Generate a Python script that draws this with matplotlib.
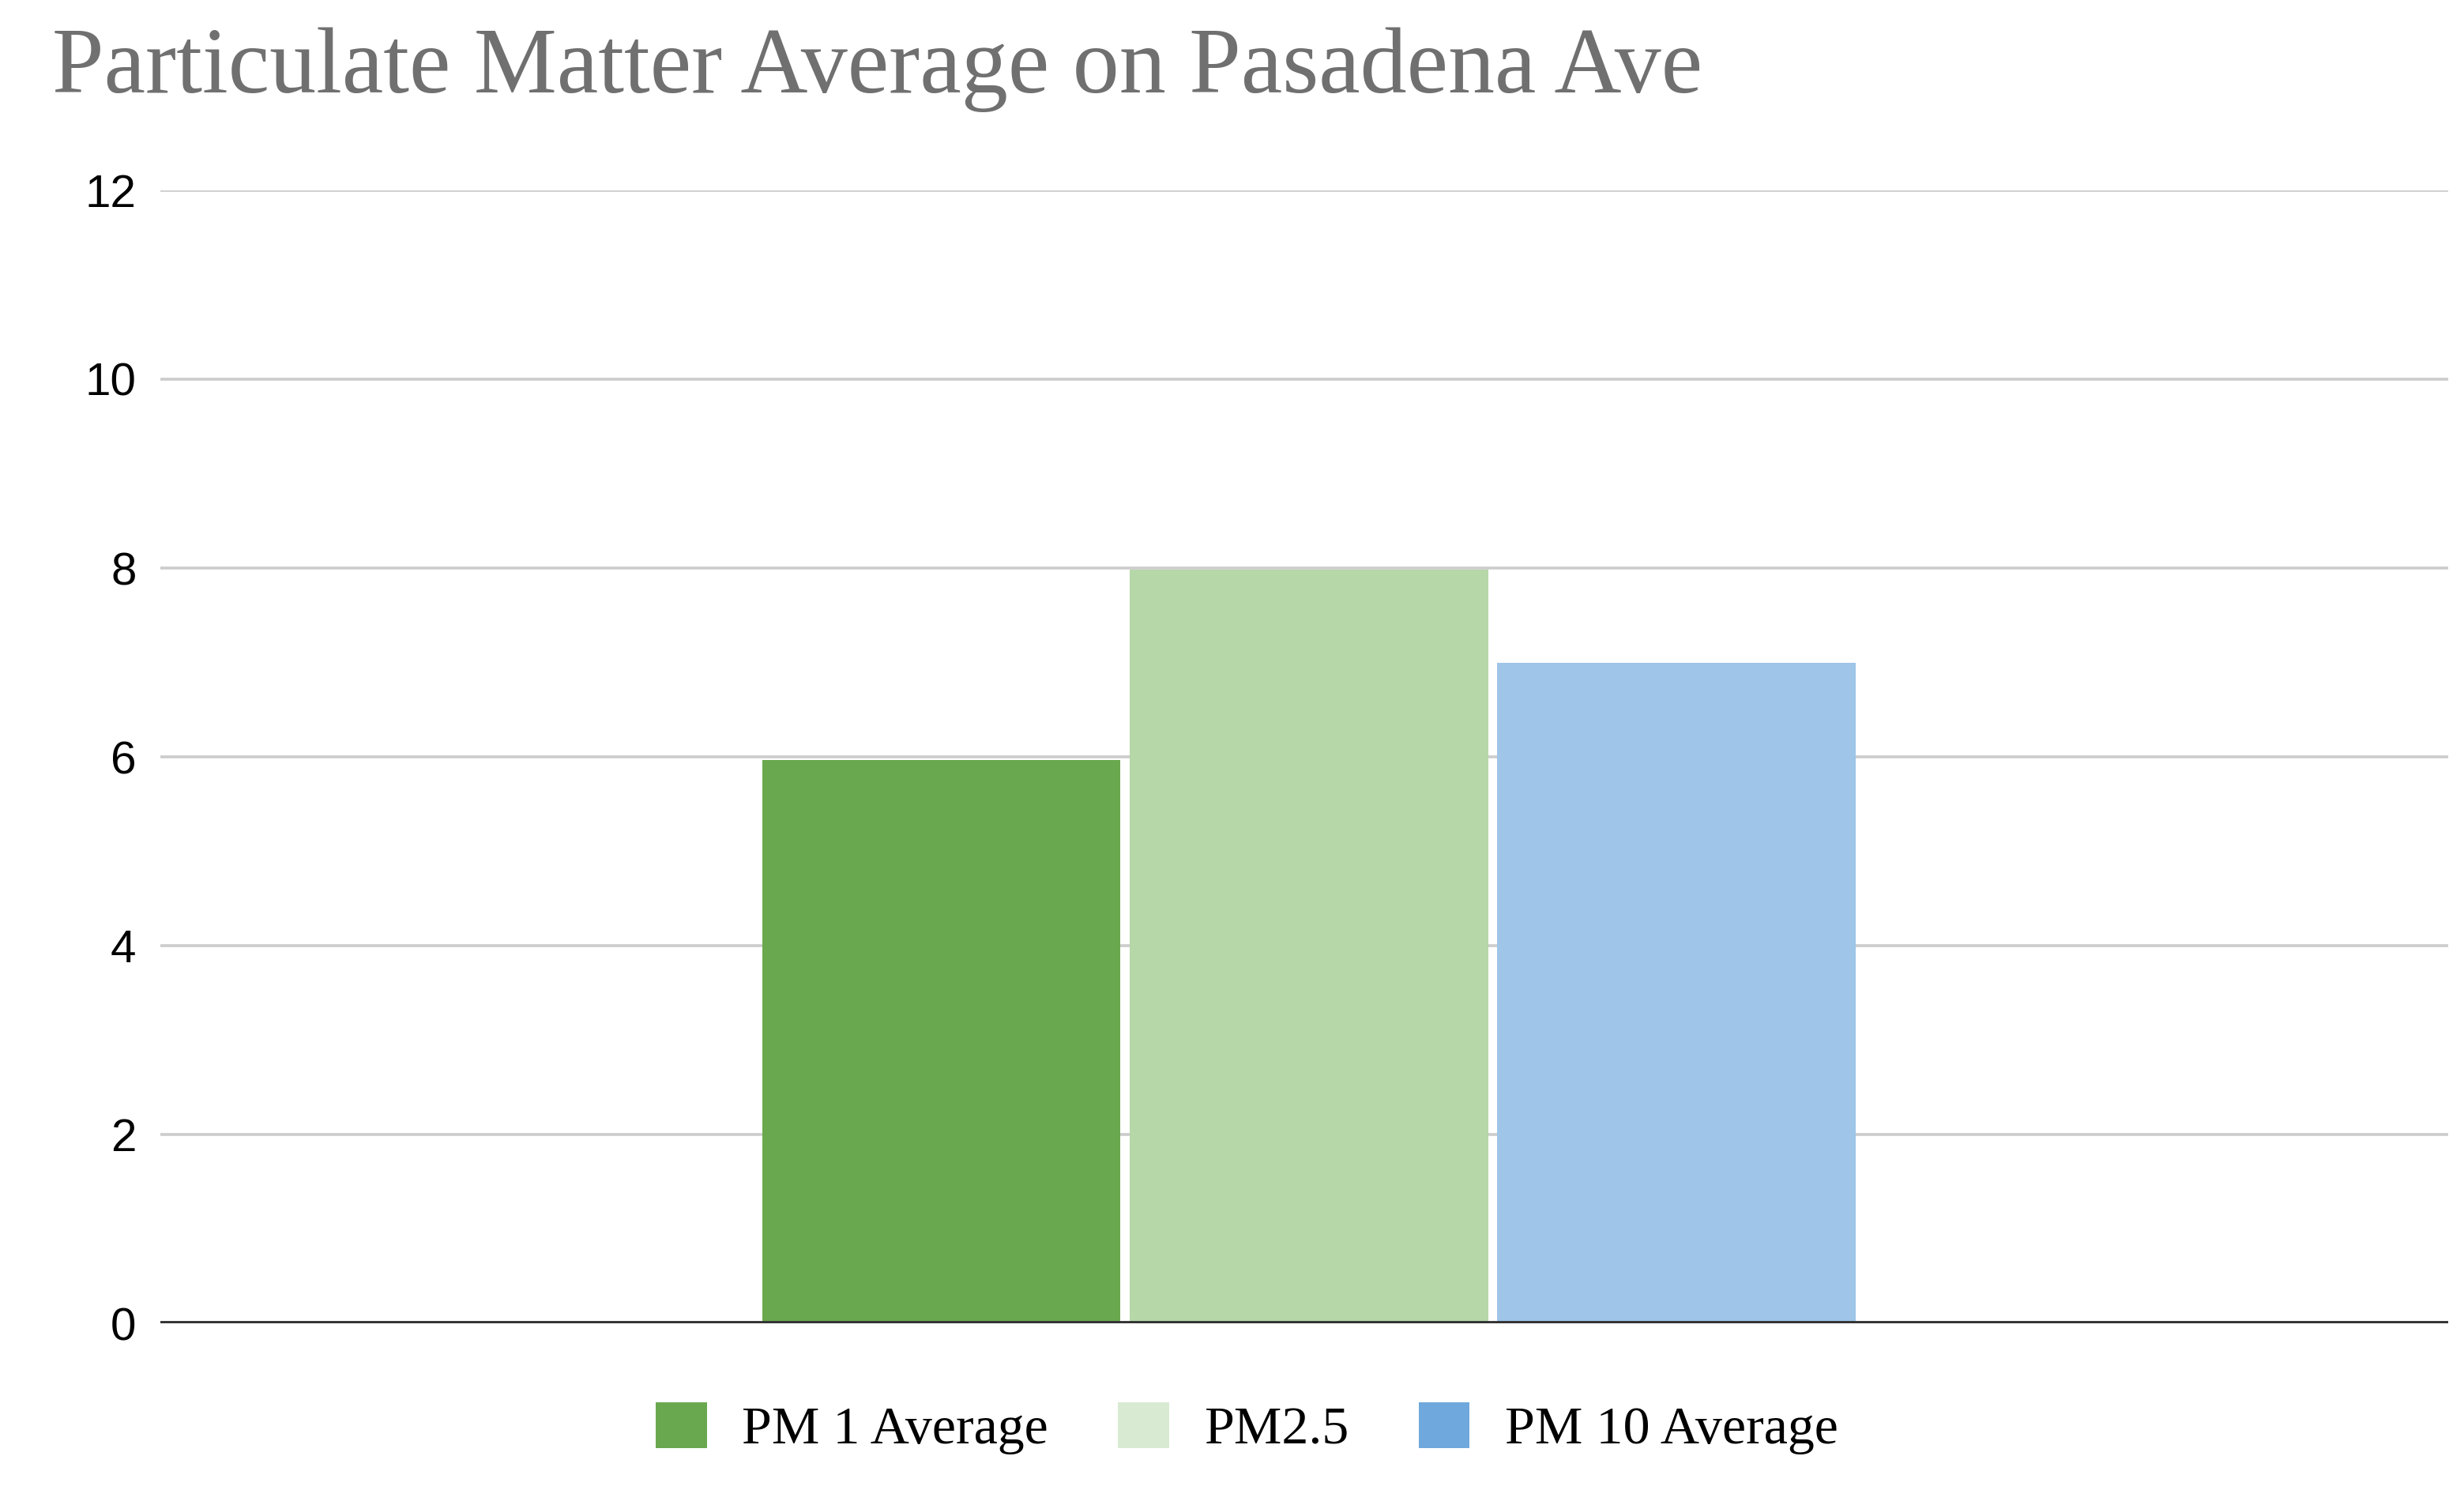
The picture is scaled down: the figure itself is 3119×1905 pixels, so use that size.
import matplotlib
matplotlib.use("Agg")
import matplotlib.pyplot as plt
from matplotlib.patches import Patch

# values
series = ["PM 1 Average", "PM2.5", "PM 10 Average"]
values = [5.97, 7.98, 7.0]
bar_colors = ["#6aa84f", "#b6d7a8", "#9fc5e8"]
legend_colors = ["#6aa84f", "#d9ead3", "#6fa8dc"]
offsets = [-0.1587, 0.002, 0.1627]
yticks = [0, 2, 4, 6, 8, 10, 12]

fig = plt.figure(figsize=(31.19, 19.05), dpi=100)
ax = fig.add_axes([0.0651, 0.1207, 0.9285, 0.7528])

for off, v, c in zip(offsets, values, bar_colors):
    ax.bar(off, v, width=0.1566, color=c, zorder=3)

ax.set_xlim(-0.5, 0.5)
ax.set_ylim(0, 12)
ax.set_yticks(yticks)
ax.set_yticklabels([str(t) for t in yticks], fontsize=42,
                   family="Liberation Sans")
ax.set_xticks([])
ax.tick_params(axis="y", length=0, pad=22)
ax.grid(axis="y", color="#cccccc", lw=2.6, zorder=0)
ax.axhline(0, color="#333333", lw=4.2, zorder=4)
for s in ax.spines.values():
    s.set_visible(False)

fig.text(66 / 3119, 1 - 88 / 1905, "Particulate Matter Average on Pasadena Ave",
         fontsize=85, family="Liberation Serif", color="#707070",
         va="center", ha="left")

handles = [Patch(facecolor=c, edgecolor="none") for c in legend_colors]
fig.legend(handles, series, loc="center", bbox_to_anchor=(0.506, 1 - 1808 / 1905),
           ncol=3, frameon=False, prop={"family": "Liberation Serif", "size": 49},
           handlelength=0.95, handleheight=0.95, handletextpad=0.65, columnspacing=1.3)

fig.savefig("out.png", dpi=100, facecolor="white")
